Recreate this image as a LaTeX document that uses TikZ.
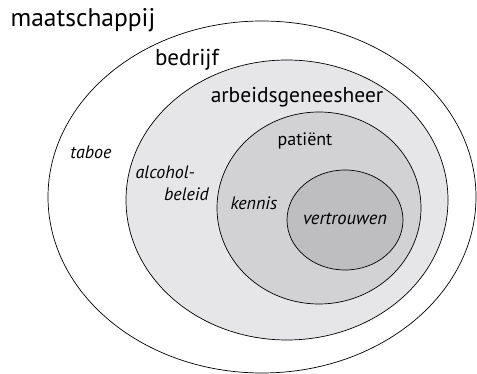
\documentclass[tikz,border=0pt]{standalone}
\usepackage{fontspec}
\setmainfont{PT Sans}
\usetikzlibrary{shapes.geometric}
\definecolor{ringA}{RGB}{230,230,232}
\definecolor{ringB}{RGB}{210,210,212}
\definecolor{ringC}{RGB}{190,190,193}

\begin{document}
\begin{tikzpicture}[
  x=1pt, y=-1pt,
  zone/.style={draw, ellipse, line width=0.7pt, inner sep=0pt},
  big/.style={font=\fontsize{25.5}{28}\selectfont, inner sep=0pt},
  mid/.style={font=\fontsize{21.5}{24}\selectfont, inner sep=0pt},
  lab/.style={font=\itshape\fontsize{18}{21}\selectfont, inner sep=0pt}
]
\useasboundingbox (0,0) rectangle (477,374);
\node[zone, fill=white, minimum width=428pt, minimum height=352pt] (M) at (262,197) {};
\node[zone, fill=ringA, minimum width=322pt, minimum height=280pt] (B) at (287,200) {};
\node[zone, fill=ringB, minimum width=204pt, minimum height=192pt] (A) at (319,208) {};
\node[zone, fill=ringC, minimum width=116pt, minimum height=100pt] (P) at (345,220) {};

\node[big] (tM) at (83,20) {maatschappij};
\node[big, font=\fontsize{23}{26}\selectfont] (tB) at (187,60) {bedrijf};
\node[mid] (tA) at (297,97) {arbeidsgeneesheer};
\node[mid, font=\fontsize{18}{21}\selectfont] (tP) at (305,141) {patiënt};
\node[lab] (taboe) at (91,152) {taboe};
\node[lab, anchor=east] (alc) at (195,172) {alcohol-};
\node[lab, anchor=east] (bel) at (209,194) {beleid};
\node[lab] (ken) at (254,203) {kennis};
\node[lab, font=\itshape\fontsize{18.5}{21}\selectfont] (ver) at (345,219) {vertrouwen};
\end{tikzpicture}
\end{document}
